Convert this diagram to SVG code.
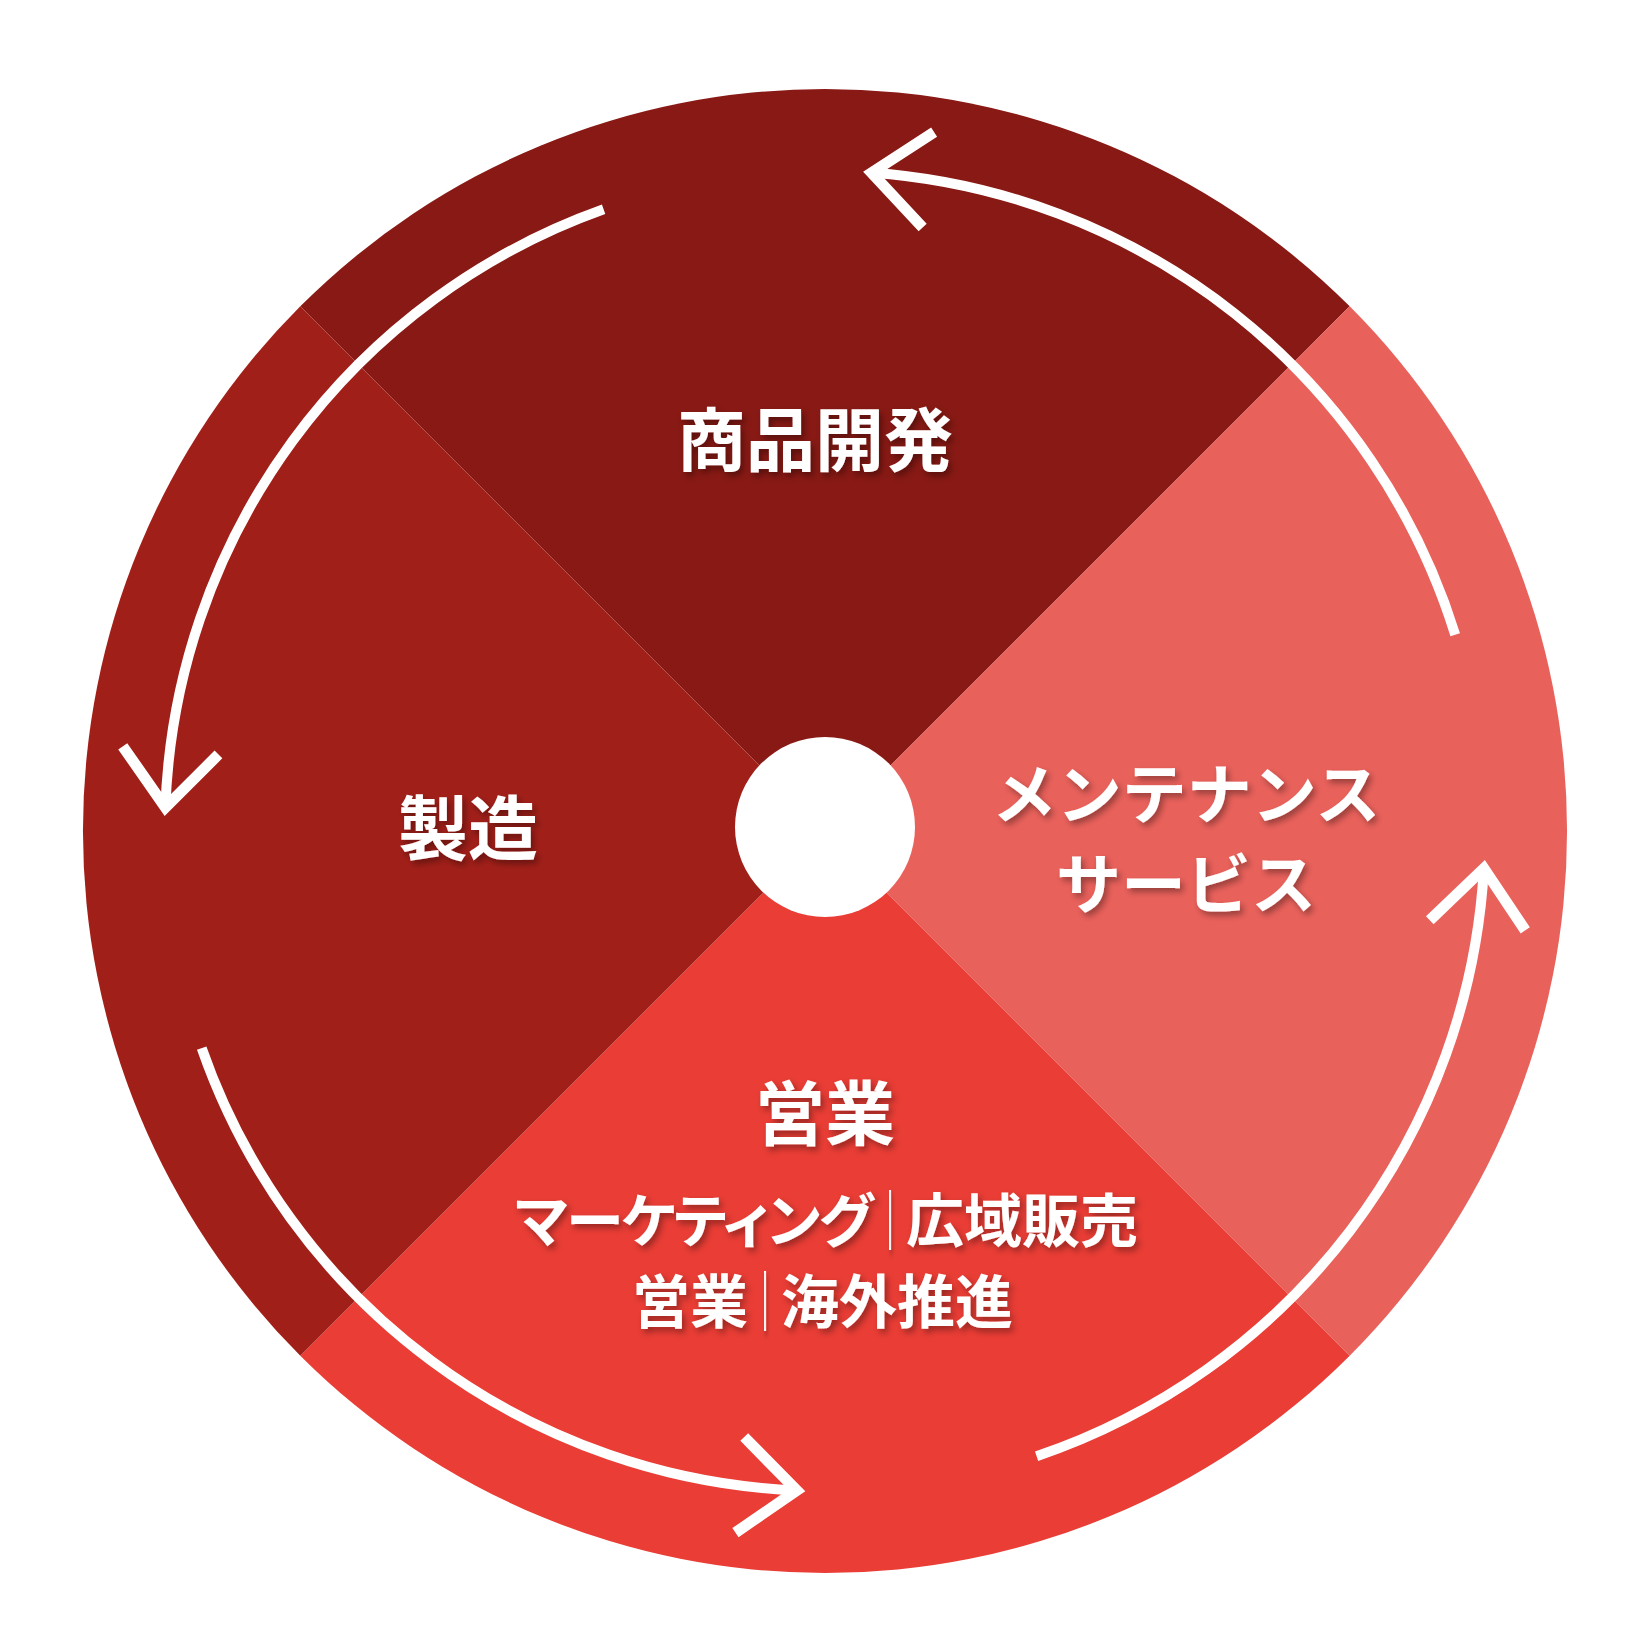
<svg xmlns="http://www.w3.org/2000/svg" width="1650" height="1650" viewBox="0 0 1650 1650">
<style>
.lbl{font-family:"Noto Sans CJK JP","Noto Sans CJK SC",sans-serif;font-weight:700;fill:#fff;text-anchor:middle;filter:url(#sh)}
.s{font-size:58px}
.e{text-anchor:end}
.b{text-anchor:start}
.kana{font-feature-settings:"palt" 1;letter-spacing:-1.6px}
.bar{stroke:#fff;stroke-width:1.4;vector-effect:non-scaling-stroke}
.arc{fill:none;stroke:#fff;stroke-width:10;marker-end:url(#chev)}
</style>
<defs>
<filter id="sh" x="-10%" y="-30%" width="125%" height="170%">
<feDropShadow dx="3" dy="4" stdDeviation="3" flood-color="#000" flood-opacity="0.35"/>
</filter>
<marker id="chev" markerUnits="userSpaceOnUse" viewBox="-90 -70 110 140" refX="0" refY="0" markerWidth="110" markerHeight="140" orient="auto" overflow="visible">
<path d="M-59.5,44.8 L0,0 L-54.8,-51.1" fill="none" stroke="#fff" stroke-width="11" stroke-linejoin="miter" stroke-miterlimit="10"/>
</marker>
</defs>
<rect width="1650" height="1650" fill="#fff"/>
<g id="node-kaihatsu">
<path d="M825,831 L300.3,306.3 A742,742 0 0 1 1349.7,306.3 Z" fill="#881914"/>
<text class="lbl" x="815" y="466" font-size="69">商品開発</text>
</g>
<g id="node-maintenance">
<path d="M825,831 L1349.7,306.3 A742,742 0 0 1 1349.7,1355.7 Z" fill="#E9615B"/>
<text class="lbl" x="1186" y="818" font-size="65">メンテナンス</text>
<text class="lbl" x="1186" y="908" font-size="65">サービス</text>
</g>
<g id="node-eigyo">
<path d="M825,831 L1349.7,1355.7 A742,742 0 0 1 300.3,1355.7 Z" fill="#E93D35"/>
<text class="lbl" x="825" y="1140" font-size="70">営業</text>
<text class="lbl s e kana" x="872" y="1242">マーケティング</text>
<text class="lbl s bar" x="890" y="1242" transform="translate(890 0) scale(0.45 1) translate(-890 0)">｜</text>
<text class="lbl s b" x="906" y="1242">広域販売</text>
<text class="lbl s e" x="748" y="1323">営業</text>
<text class="lbl s bar" x="765" y="1323" transform="translate(765 0) scale(0.45 1) translate(-765 0)">｜</text>
<text class="lbl s b" x="781" y="1323">海外推進</text>
</g>
<g id="node-seizo">
<path d="M825,831 L300.3,1355.7 A742,742 0 0 1 300.3,306.3 Z" fill="#A11F19"/>
<text class="lbl" x="468" y="855" font-size="70">製造</text>
</g>
<g id="center">
<circle cx="825" cy="827" r="90" fill="#fff"/>
</g>
<g id="connectors">
<path class="arc" d="M1455.2,634.7 A660,660 0 0 0 871.6,172.7"/>
<path class="arc" d="M603.6,209.3 A660,660 0 0 0 165.4,807.4"/>
<path class="arc" d="M201.7,1048.1 A660,660 0 0 0 796.8,1490.4"/>
<path class="arc" d="M1036.6,1456.2 A660,660 0 0 0 1483.9,868.4"/>
</g>
</svg>
